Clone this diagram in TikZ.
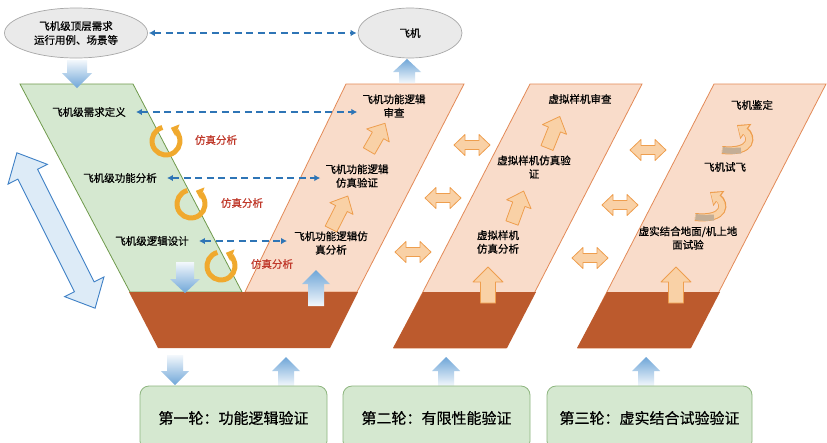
\documentclass[tikz,border=0pt]{standalone}
\usepackage{fontspec}
\setmainfont{Noto Sans CJK SC}[FakeBold=0.6]
\usetikzlibrary{arrows.meta,shapes.geometric,calc}
\definecolor{ellfill}{HTML}{EAEAEA}
\definecolor{elldraw}{HTML}{A8A8A8}
\definecolor{gfill}{HTML}{D5E8D0}
\definecolor{gdraw}{HTML}{6F9A4C}
\definecolor{bxdraw}{HTML}{8DB57E}
\definecolor{sfill}{HTML}{F9DCCA}
\definecolor{sdraw}{HTML}{E38A57}
\definecolor{brown}{HTML}{BC5A2D}
\definecolor{dblue}{HTML}{2E75B6}
\definecolor{bblue}{HTML}{6FA6D8}
\definecolor{bigfill}{HTML}{DDEBF7}
\definecolor{bigdraw}{HTML}{3E80C6}
\definecolor{ofill}{HTML}{F9D1A6}
\definecolor{odraw}{HTML}{EE9E4E}
\definecolor{cyc}{HTML}{F0A92E}
\definecolor{redtxt}{HTML}{C0392B}
\definecolor{rgrey}{HTML}{C4AE96}
% vertical block arrow: style, x, ytip, ybase, half shaft, half head, y of head base
\newcommand{\myvarr}[7]{\path[#1] (#2,#3) -- ({#2+#6},#7) -- ({#2+#5},#7) -- ({#2+#5},#4) -- ({#2-#5},#4) -- ({#2-#5},#7) -- ({#2-#6},#7) -- cycle;}
% tilted single arrow: style, tail x, tail y, angle, length
\newcommand{\mytarr}[5]{\path[#1,shift={(#2,#3)},rotate=#4] (0,-6.5) -- ({#5-14},-6.5) -- ({#5-14},-13) -- (#5,0) -- ({#5-14},13) -- ({#5-14},6.5) -- (0,6.5) -- cycle;}
% horizontal double arrow: style, cx, cy
\newcommand{\mydarr}[3]{\path[#1,shift={(#2,#3)}] (-18,0) -- (-7,-10.5) -- (-7,-4.5) -- (7,-4.5) -- (7,-10.5) -- (18,0) -- (7,10.5) -- (7,4.5) -- (-7,4.5) -- (-7,10.5) -- cycle;}
\begin{document}
\begin{tikzpicture}[x=1pt,y=-1pt,
  txt/.style={font=\fontsize{10.5}{13.5}\selectfont, align=center, inner sep=2pt},
  redt/.style={font=\fontsize{10.5}{13}\selectfont, text=redtxt, inner sep=1pt},
  ell/.style={ellipse, draw=elldraw, fill=ellfill, line width=0.7pt, minimum height=50pt, inner sep=0pt, font=\fontsize{10.5}{14}\selectfont, align=center},
  dasharr/.style={draw=dblue, line width=1.8pt, dash pattern=on 7pt off 4.5pt, {Latex[length=6pt,width=6.5pt]}-{Latex[length=6pt,width=6.5pt]}, shorten <=8pt, shorten >=3pt},
  roundbox/.style={draw=bxdraw, fill=gfill, line width=0.8pt, rounded corners=9pt, minimum height=64pt, font=\fontsize{15}{18}\selectfont},
  oarr/.style={fill=ofill, draw=odraw, line width=0.8pt, line join=round},
  upb/.style={top color=bblue, bottom color=bblue!8, draw=none},
  downb/.style={top color=bblue!8, bottom color=bblue, draw=none},
  cycarr/.style={draw=cyc, line width=5pt, -{Triangle[length=7pt,width=12pt]}}
]
\useasboundingbox (0,0) rectangle (827,442);
\fill[white] (0,0) rectangle (827,442);

% parallelograms
\filldraw[fill=gfill, draw=gdraw, line width=0.8pt] (20,84) -- (133,84) -- (242,292) -- (130,292) -- cycle;
\filldraw[fill=sfill, draw=sdraw, line width=0.8pt] (346,84) -- (464,84) -- (357,292) -- (245,292) -- cycle;
\filldraw[fill=sfill, draw=sdraw, line width=0.8pt] (530,84) -- (642,84) -- (506,348) -- (394,348) -- cycle;
\filldraw[fill=sfill, draw=sdraw, line width=0.8pt] (714,84) -- (826,84) -- (690,348) -- (578,348) -- cycle;
% brown bases
\fill[brown] (129,292) -- (358,292) -- (330,348) -- (158,348) -- cycle;
\fill[brown] (423,292) -- (536,292) -- (507,348) -- (393,348) -- cycle;
\fill[brown] (607,292) -- (720,292) -- (691,348) -- (577,348) -- cycle;

% big left double arrow
\path[fill=bigfill, draw=bigdraw, line width=0.9pt, line join=miter, shift={(56,230.5)}, rotate=-63.3]
  (-87,0) -- (-63,-22) -- (-63,-11) -- (63,-11) -- (63,-22) -- (87,0) -- (63,22) -- (63,11) -- (-63,11) -- (-63,22) -- cycle;

% ellipses
\node[ell, minimum width=143pt] (e1) at (76,33) {飞机级顶层需求\\运行用例、场景等};
\node[ell, minimum width=104pt] (e2) at (410,33) {飞机};
\draw[dasharr, shorten <=1pt, shorten >=1pt] (e1) -- (e2);

% blue block arrows
\myvarr{downb}{77}{88}{60}{10}{15}{73}
\myvarr{upb}{407}{59}{83}{8}{14}{72}
\myvarr{downb}{185}{293}{262}{9}{15}{279}
\myvarr{upb}{316}{270}{306}{8}{14}{284}
\myvarr{downb}{175}{385}{355}{8}{14}{371}
\myvarr{upb}{286}{357}{386}{8}{14}{371}
\myvarr{upb}{446}{357}{386}{8}{14}{371}
\myvarr{upb}{646}{357}{386}{8}{14}{371}

% orange vertical arrows in brown
\myvarr{oarr}{488}{267}{303}{7.5}{15}{282}
\myvarr{oarr}{676}{267}{303}{7.5}{15}{282}

% tilted orange arrows
\mytarr{oarr}{369}{151}{60}{32}
\mytarr{oarr}{331}{229}{63}{37}
\mytarr{oarr}{512}{223}{70}{34}
\mytarr{oarr}{547}{148}{68}{34}

% double arrows
\mydarr{oarr}{472}{145}
\mydarr{oarr}{443}{198}
\mydarr{oarr}{413}{252}
\mydarr{oarr}{648}{150}
\mydarr{oarr}{620}{205}
\mydarr{oarr}{590}{258}

% curved ribbon arrows
\foreach \dx/\dy in {0/0, -27/67} {
\begin{scope}[shift={(\dx,\dy)}]
\draw[draw=odraw, line width=8pt, -{Triangle[length=11pt,width=18pt]}] (722,150) .. controls (754,153) and (752,136) .. (737,125);
\draw[draw=ofill, line width=6pt, -{Triangle[length=8.5pt,width=14pt]}] (722,150) .. controls (754,153) and (752,136) .. (737.8,126.2);
\draw[draw=rgrey, line width=6pt] (722.5,150) .. controls (731,151) .. (741,150.5);
\end{scope}
}

% cycle arrows
\draw[cycarr] ([shift={(-105:14)}]166,141) arc[start angle=-105, end angle=-430, radius=14];
\draw[cycarr] ([shift={(-105:14)}]191,204) arc[start angle=-105, end angle=-430, radius=14];
\draw[cycarr] ([shift={(-105:14)}]221,266) arc[start angle=-105, end angle=-430, radius=14];

% texts
\node[txt] (g1) at (89,112) {飞机级需求定义};
\node[txt] (g2) at (120,178) {飞机级功能分析};
\node[txt] (g3) at (152,241) {飞机级逻辑设计};
\node[redt] (r1) at (216,140) {仿真分析};
\node[redt] (r2) at (242,203) {仿真分析};
\node[redt] (r3) at (272,264) {仿真分析};
\node[txt] (a1) at (394,106) {飞机功能逻辑\\审查};
\node[txt] (a2) at (357,176) {飞机功能逻辑\\仿真验证};
\node[txt] (a3) at (331,243) {飞机功能逻辑仿\\真分析};
\node[txt] (b1) at (580,99) {虚拟样机审查};
\node[txt] (b2) at (534,167) {虚拟样机仿真验\\证};
\node[txt] (b3) at (498,242) {虚拟样机\\仿真分析};
\node[txt] (c1) at (752,105) {飞机鉴定};
\node[txt] (c2) at (725,167) {飞机试飞};
\node[txt] (c3) at (688,238) {虚实结合地面/机上地\\面试验};

% dashed connectors
\draw[dasharr] (g1) -- (g1 -| a1.west);
\draw[dasharr] (g2) -- (g2 -| a2.west);
\draw[dasharr, shorten >=5pt] (g3) -- (g3 -| a3.west);

% bottom boxes
\node[roundbox, minimum width=187pt] (k1) at (233.5,418) {第一轮：功能逻辑验证};
\node[roundbox, minimum width=187pt] (k2) at (436.5,418) {第二轮：有限性能验证};
\node[roundbox, minimum width=205pt] (k3) at (649.5,418) {第三轮：虚实结合试验验证};
\end{tikzpicture}
\end{document}
